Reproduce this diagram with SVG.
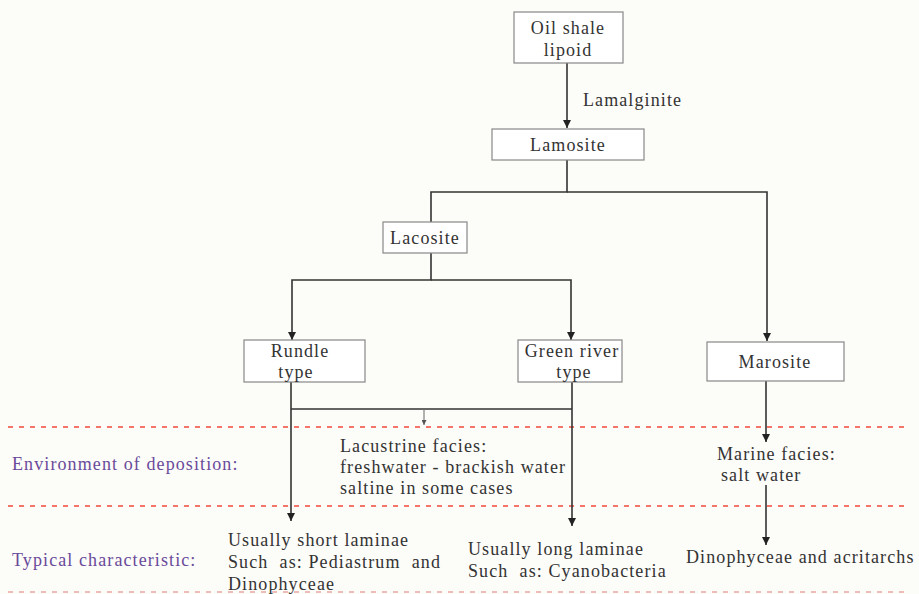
<svg xmlns="http://www.w3.org/2000/svg" width="919" height="594" viewBox="0 0 919 594">
<defs>
<marker id="ah" viewBox="0 0 10 10" refX="10" refY="5" markerWidth="8" markerHeight="8" markerUnits="userSpaceOnUse" orient="auto"><path d="M0,0 L10,5 L0,10 Z" fill="#222"/></marker>
<marker id="ahs" viewBox="0 0 10 10" refX="10" refY="5" markerWidth="5" markerHeight="5" markerUnits="userSpaceOnUse" orient="auto"><path d="M0,0 L10,5 L0,10 Z" fill="#555"/></marker>
<style>
.box{fill:#fff;stroke:#888;stroke-width:1.2}
.t{font-family:"Liberation Serif","Times New Roman",serif;font-size:18px;fill:#333;letter-spacing:1.1px}
.p{font-family:"Liberation Serif","Times New Roman",serif;font-size:18px;fill:#6a4a9a;letter-spacing:1.1px}
.c{text-anchor:middle}
.ln{fill:none;stroke:#333;stroke-width:1.6}
.dash{stroke:#f04a3a;stroke-width:1.5;stroke-dasharray:5,6}
</style>
</defs>
<rect width="919" height="594" fill="#fcfcf8"/>
<g id="guides">
<line class="dash" x1="8" y1="427" x2="905" y2="427"/>
<line class="dash" x1="8" y1="506" x2="905" y2="506"/>
<line x1="8" y1="592" x2="905" y2="592" stroke="#e8a8a8" stroke-width="1.5" stroke-dasharray="5,6"/>
</g>
<g id="connectors">
<line class="ln" x1="567" y1="63" x2="567" y2="128" marker-end="url(#ah)"/>
<polyline class="ln" points="567,160 567,192 431,192 431,222"/>
<polyline class="ln" points="567,192 767,192 767,341" marker-end="url(#ah)"/>
<polyline class="ln" points="431,253 431,280 292,280 292,340" marker-end="url(#ah)"/>
<polyline class="ln" points="431,280 571,280 571,340" marker-end="url(#ah)"/>
<line class="ln" x1="291" y1="382" x2="291" y2="521" marker-end="url(#ah)"/>
<line class="ln" x1="572" y1="382" x2="572" y2="526" marker-end="url(#ah)"/>
<line class="ln" x1="291" y1="409" x2="572" y2="409"/>
<line x1="424" y1="409" x2="424" y2="425" stroke="#666" stroke-width="1" marker-end="url(#ahs)"/>
<line class="ln" x1="766" y1="381" x2="766" y2="442" marker-end="url(#ah)"/>
<line class="ln" x1="766" y1="485" x2="766" y2="545" marker-end="url(#ah)"/>
</g>
<g id="oil-shale-lipoid">
<rect class="box" x="514" y="12" width="109" height="51"/>
<text class="t c" x="568" y="34">Oil shale</text>
<text class="t c" x="568" y="56">lipoid</text>
</g>
<text class="t" x="583" y="106">Lamalginite</text>
<g id="lamosite">
<rect class="box" x="492" y="129" width="152" height="31"/>
<text class="t c" x="568" y="151">Lamosite</text>
</g>
<g id="lacosite">
<rect class="box" x="383" y="222" width="84" height="31"/>
<text class="t c" x="425" y="244">Lacosite</text>
</g>
<g id="rundle-type">
<rect class="box" x="244" y="340" width="121" height="42"/>
<text class="t c" x="300" y="357">Rundle</text>
<text class="t c" x="296" y="378">type</text>
</g>
<g id="green-river-type">
<rect class="box" x="518" y="340" width="104" height="42"/>
<text class="t c" x="572" y="357">Green river</text>
<text class="t c" x="574" y="378">type</text>
</g>
<g id="marosite">
<rect class="box" x="707" y="342" width="137" height="39"/>
<text class="t c" x="775" y="368">Marosite</text>
</g>
<g id="labels">
<text class="p" x="12" y="470">Environment of deposition:</text>
<text class="p" x="12" y="566">Typical characteristic:</text>
<text class="t" x="340" y="452">Lacustrine facies:</text>
<text class="t" x="340" y="473">freshwater - brackish water</text>
<text class="t" x="340" y="494">saltine in some cases</text>
<text class="t" x="717" y="460">Marine facies:</text>
<text class="t" x="721" y="481">salt water</text>
<text class="t" x="228" y="546">Usually short laminae</text>
<text class="t" x="228" y="568" xml:space="preserve">Such  as: Pediastrum  and</text>
<text class="t" x="228" y="590">Dinophyceae</text>
<text class="t" x="468" y="555">Usually long laminae</text>
<text class="t" x="468" y="577" xml:space="preserve">Such  as: Cyanobacteria</text>
<text class="t" x="686" y="563">Dinophyceae and acritarchs</text>
</g>
</svg>
